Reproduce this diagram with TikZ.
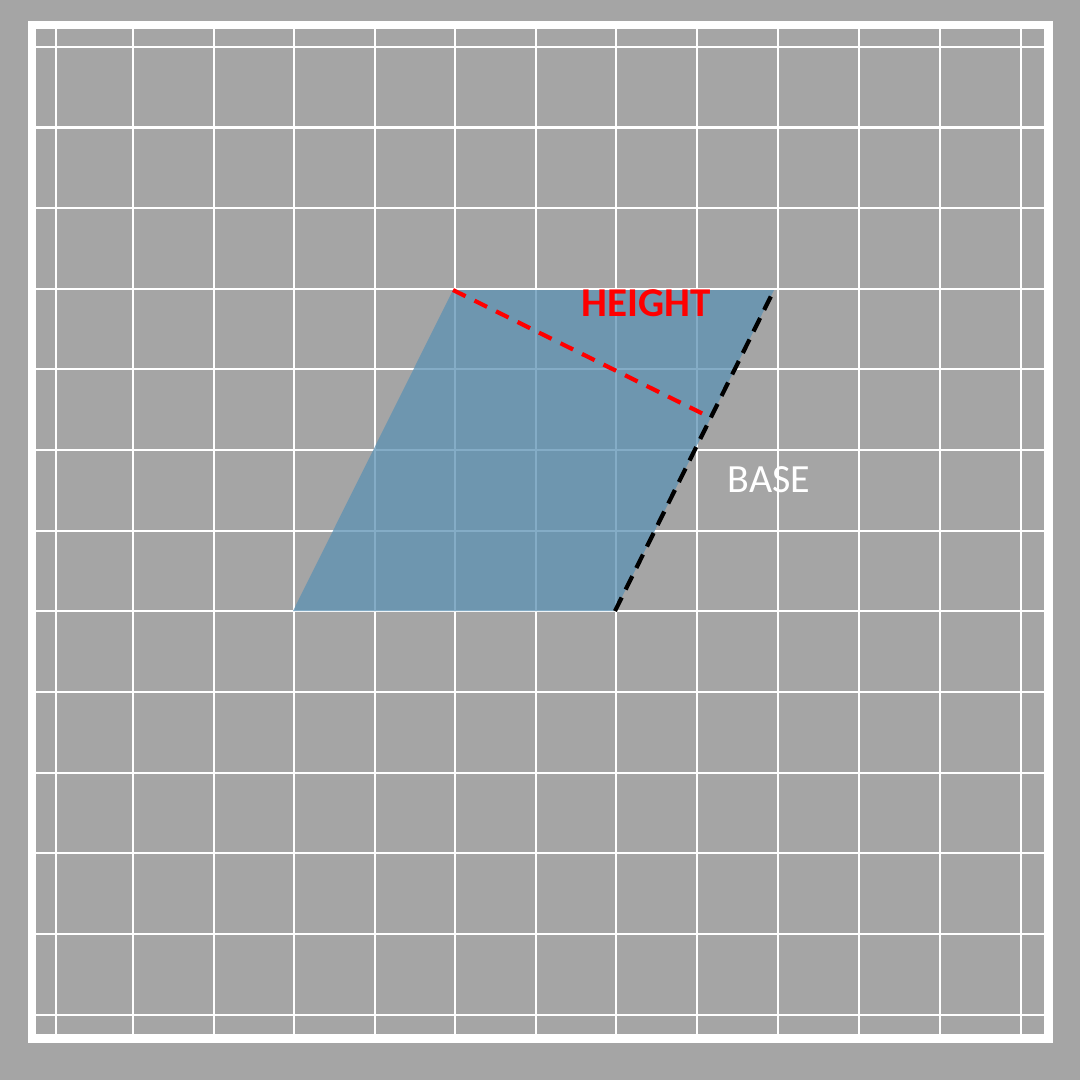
\documentclass[tikz,border=0pt]{standalone}
\usepackage{fontspec}
\usetikzlibrary{calc}
\setmainfont{Carlito}
\definecolor{bggray}{RGB}{165,165,165}
\definecolor{shapeblue}{RGB}{92,145,179}
\begin{document}
\begin{tikzpicture}[x=1pt,y=-1pt,
  gridline/.style={white,line width=2.7pt},
  frameline/.style={white,line width=8.5pt},
  heightline/.style={red,line width=4.2pt,dash pattern=on 14pt off 10pt},
  baseline/.style={black,line width=4.2pt,dash pattern=on 15pt off 9pt},
  lbl/.style={inner sep=0pt,font=\fontsize{40}{44}\selectfont}]
\fill[bggray] (0,0) rectangle (1080,1080);
\useasboundingbox (0,0) rectangle (1080,1080);
\foreach \x in {56,133,214,294,375,455,536,616,697,778,859,940,1021}
  \draw[gridline] (\x,29) -- (\x,1034);
\foreach \y in {47,127.5,208,289,369,450,531,611,692,773,853,934,1015}
  \draw[gridline] (36,\y) -- (1044,\y);
\draw[frameline] (32,25) rectangle (1048.5,1038.5);
\coordinate (bl) at (293,611);
\coordinate (br) at (615,611);
\coordinate (tr) at (774,290);
\coordinate (tl) at (453,290);
\fill[shapeblue,fill opacity=0.75] (bl) -- (br) -- (tr) -- (tl) -- cycle;
\coordinate (foot) at ($(br)!(tl)!(tr)$);
\coordinate (hend) at ($(tl)!0.97!(foot)$);
\draw[heightline] (tl) -- (hend);
\draw[baseline] (br) -- (tr);
\node[lbl,text=red,font=\fontsize{41}{44}\selectfont\bfseries] (height) at (646,303) {HEIGHT};
\node[lbl,text=white] (base) at (769,480) {BASE};
\end{tikzpicture}
\end{document}
